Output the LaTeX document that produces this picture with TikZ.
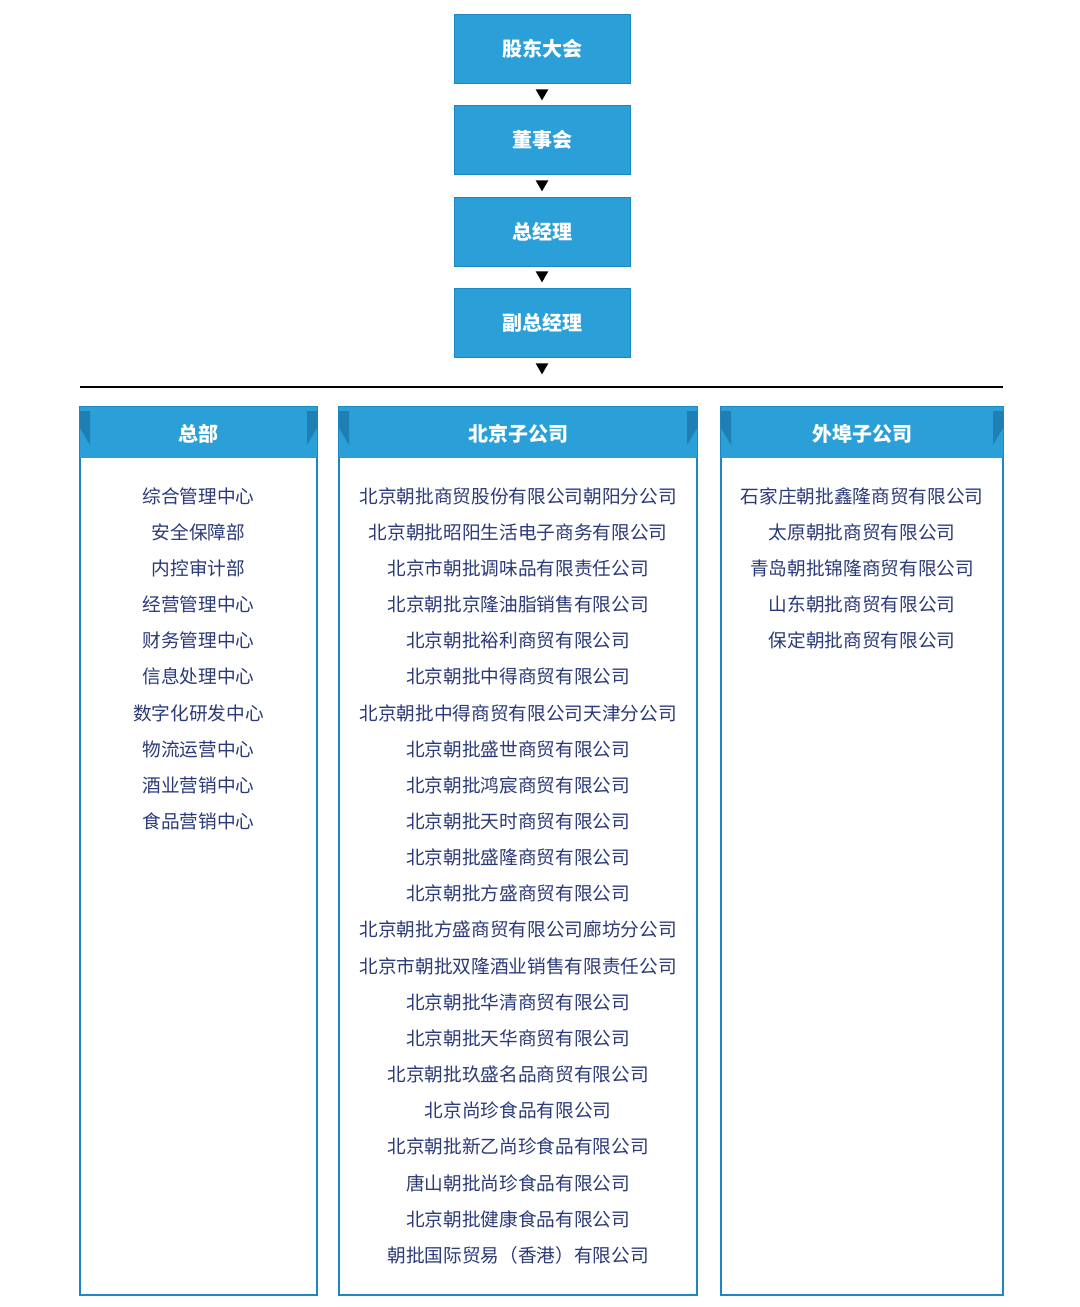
\documentclass[tikz,border=0pt]{standalone}
\usepackage{fontspec}
\newfontfamily\cjk{Noto Sans CJK SC}
\usetikzlibrary{positioning}
\definecolor{boxblue}{HTML}{2A9FD8}
\definecolor{edgeblue}{HTML}{1C87C2}
\definecolor{tabblue}{HTML}{1F7FB5}
\definecolor{navy}{HTML}{2B3A78}
\tikzset{
  level/.style={draw=edgeblue, fill=boxblue, minimum width=132pt, minimum height=51.75pt,
    text=white, font=\cjk\bfseries\fontsize{15}{18}\selectfont, inner sep=0pt},
  tip/.style={fill=black, regular polygon, regular polygon sides=3, shape border rotate=180,
    inner sep=0pt, minimum size=11pt},
  head/.style={text=white, font=\cjk\bfseries\fontsize{15}{18}\selectfont},
  item/.style={text=navy, font=\cjk\fontsize{14}{17}\selectfont, inner sep=0pt}
}
\usetikzlibrary{shapes.geometric}
\begin{document}
\begin{tikzpicture}[x=0.75pt, y=-0.75pt]
	\useasboundingbox (0,0) rectangle (1080,1307);
	% management chain
	\node [level] (gd) at (542,48.5) {股东大会};
	\node [level] (bd) at (542,139.5) {董事会};
	\node [level] (gm) at (542,231.5) {总经理};
	\node [level] (vgm) at (542,322.5) {副总经理};
	\node [tip] (t1) at (542,93) {};
	\node [tip] (t2) at (542,184) {};
	\node [tip] (t3) at (542,275) {};
	\node [tip] (t4) at (542,367) {};
	\coordinate (ll) at (80,387);
	\coordinate (lr) at (1003,387);
	\draw [line width=1.2pt] (ll) -- (lr);
	% three columns
	\foreach \name/\xa/\xb/\title in {hq/80/317/总部, bj/339/697/北京子公司, out/721/1003/外埠子公司}{
		\draw [edgeblue, line width=0.8pt] (\xa,407) rectangle (\xb,1295);
		\fill [boxblue] (\xa,407) rectangle (\xb,458);
		\fill [tabblue] (\xa,411) -- (\xa+10,411) -- (\xa+10,445) -- (\xa,428) -- cycle;
		\fill [tabblue] (\xb,411) -- (\xb-10,411) -- (\xb-10,445) -- (\xb,428) -- cycle;
		\node [head] (\name-head) at ({(\xa+\xb)/2},434) {\title};
	}
	\foreach \txt [count=\i] in {综合管理中心, 安全保障部, 内控审计部, 经营管理中心, 财务管理中心,
		信息处理中心, 数字化研发中心, 物流运营中心, 酒业营销中心, 食品营销中心}
		\node [item] (hq-\i) at (198.5,{496+36.15*(\i-1)}) {\txt};
	\foreach \txt [count=\i] in {北京朝批商贸股份有限公司朝阳分公司, 北京朝批昭阳生活电子商务有限公司,
		北京市朝批调味品有限责任公司, 北京朝批京隆油脂销售有限公司, 北京朝批裕利商贸有限公司,
		北京朝批中得商贸有限公司, 北京朝批中得商贸有限公司天津分公司, 北京朝批盛世商贸有限公司,
		北京朝批鸿宸商贸有限公司, 北京朝批天时商贸有限公司, 北京朝批盛隆商贸有限公司,
		北京朝批方盛商贸有限公司, 北京朝批方盛商贸有限公司廊坊分公司, 北京市朝批双隆酒业销售有限责任公司,
		北京朝批华清商贸有限公司, 北京朝批天华商贸有限公司, 北京朝批玖盛名品商贸有限公司,
		北京尚珍食品有限公司, 北京朝批新乙尚珍食品有限公司, 唐山朝批尚珍食品有限公司,
		北京朝批健康食品有限公司, 朝批国际贸易（香港）有限公司}
		\node [item] (bj-\i) at (518,{496+36.15*(\i-1)}) {\txt};
	\foreach \txt [count=\i] in {石家庄朝批鑫隆商贸有限公司, 太原朝批商贸有限公司, 青岛朝批锦隆商贸有限公司,
		山东朝批商贸有限公司, 保定朝批商贸有限公司}
		\node [item] (out-\i) at (862,{496+36.15*(\i-1)}) {\txt};
\end{tikzpicture}
\end{document}
